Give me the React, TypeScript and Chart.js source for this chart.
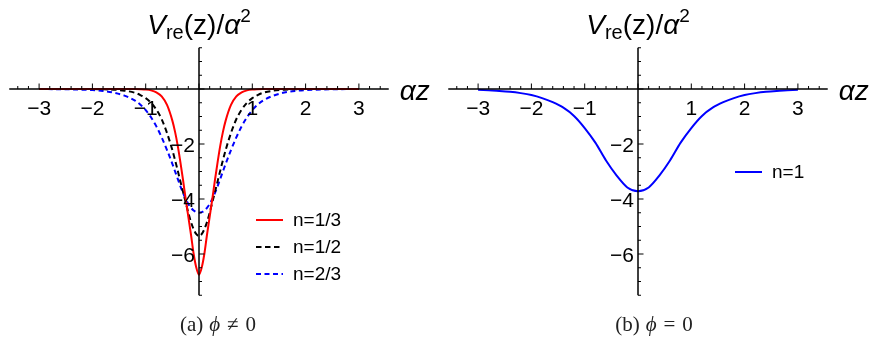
import { useEffect, useRef } from "react";
import { Chart, registerables } from "chart.js";

Chart.register(...registerables);

// αz sample positions for panel (a)
const zLeft = [
  -3, -2.5, -2, -1.8, -1.6, -1.4, -1.2, -1.1, -1, -0.9, -0.8, -0.7, -0.6, -0.5, -0.45, -0.4, -0.35, -0.3, -0.25,
  -0.2, -0.15, -0.1, -0.05, 0, 0.05, 0.1, 0.15, 0.2, 0.25, 0.3, 0.35, 0.4, 0.45, 0.5, 0.6, 0.7, 0.8, 0.9, 1, 1.1,
  1.2, 1.4, 1.6, 1.8, 2, 2.5, 3,
];

// V_re(z)/α² for n = 1/3
const vN13 = [
  0, 0, 0, 0, 0, 0, -0.003, -0.008, -0.02, -0.05, -0.12, -0.27, -0.58, -1.15, -1.55, -2.05, -2.65, -3.3, -4.0,
  -4.65, -5.3, -6.0, -6.5, -6.75, -6.5, -6.0, -5.3, -4.65, -4.0, -3.3, -2.65, -2.05, -1.55, -1.15, -0.58, -0.27,
  -0.12, -0.05, -0.02, -0.008, -0.003, 0, 0, 0, 0, 0, 0,
];

// V_re(z)/α² for n = 1/2
const vN12 = [
  0, 0, -0.004, -0.01, -0.025, -0.06, -0.14, -0.22, -0.33, -0.5, -0.75, -1.1, -1.6, -2.22, -2.58, -2.96, -3.35,
  -3.74, -4.12, -4.5, -4.84, -5.1, -5.28, -5.35, -5.28, -5.1, -4.84, -4.5, -4.12, -3.74, -3.35, -2.96, -2.58,
  -2.22, -1.6, -1.1, -0.75, -0.5, -0.33, -0.22, -0.14, -0.06, -0.025, -0.01, -0.004, 0, 0,
];

// V_re(z)/α² for n = 2/3
const vN23 = [
  -0.002, -0.01, -0.04, -0.07, -0.13, -0.24, -0.42, -0.57, -0.77, -1.03, -1.36, -1.76, -2.22, -2.72, -2.99,
  -3.26, -3.53, -3.78, -4.0, -4.18, -4.32, -4.42, -4.48, -4.5, -4.48, -4.42, -4.32, -4.18, -4.0, -3.78, -3.53,
  -3.26, -2.99, -2.72, -2.22, -1.76, -1.36, -1.03, -0.77, -0.57, -0.42, -0.24, -0.13, -0.07, -0.04, -0.01, -0.002,
];

// αz sample positions for panel (b)
const zRight = [
  -3, -2.8, -2.6, -2.4, -2.2, -2, -1.8, -1.6, -1.4, -1.2, -1, -0.8, -0.6, -0.4, -0.2, 0, 0.2, 0.4, 0.6, 0.8, 1,
  1.2, 1.4, 1.6, 1.8, 2, 2.2, 2.4, 2.6, 2.8, 3,
];

// V_re(z)/α² for n = 1
const vN1 = [
  -0.03, -0.05, -0.07, -0.1, -0.15, -0.22, -0.33, -0.48, -0.68, -0.98, -1.42, -1.95, -2.6, -3.15, -3.58, -3.72,
  -3.58, -3.15, -2.6, -1.95, -1.42, -0.98, -0.68, -0.48, -0.33, -0.22, -0.15, -0.1, -0.07, -0.05, -0.03,
];

const xTickValues = [-3, -2, -1, 1, 2, 3];
const yTickValues = [-6, -4, -2];
const xRange = [-3.56, 3.56];
const yRange = [-7.5, 1.5];

const SANS = '"Liberation Sans", Arial, sans-serif';
const CANVAS_W = 436;
const CANVAS_H = 339;
const PX_PER_X = 53.3;
const PX_PER_Y = 27.5;
const ORIGIN_Y = 89;

type Series = { label: string; z: number[]; v: number[]; color: string; dash: number[] };
type LegendBox = { x: number; y: number; gap: number };

// negative numbers use a true minus sign
const fmt = (v: number) => (v < 0 ? "\u2212" + Math.abs(v) : String(v));

function drawTitle(ctx: CanvasRenderingContext2D, cx: number, base: number) {
  const parts = [
    { t: "V", f: `italic 28px ${SANS}`, dy: 0 },
    { t: "re", f: `20px ${SANS}`, dy: 5 },
    { t: "(z)/", f: `28px ${SANS}`, dy: 0 },
    { t: "\u03b1", f: `italic 28px ${SANS}`, dy: 0 },
    { t: "2", f: `19px ${SANS}`, dy: -12 },
  ];
  let total = 0;
  for (const p of parts) {
    ctx.font = p.f;
    total += ctx.measureText(p.t).width;
  }
  let x = cx - total / 2;
  ctx.textAlign = "left";
  ctx.textBaseline = "alphabetic";
  ctx.fillStyle = "#000";
  for (const p of parts) {
    ctx.font = p.f;
    ctx.fillText(p.t, x, base + p.dy);
    x += ctx.measureText(p.t).width;
  }
}

function makeOriginAxes(legend: LegendBox) {
  return {
    id: "originAxes",
    afterDatasetsDraw(chart: any) {
      const { ctx, chartArea } = chart;
      const xs = chart.scales.x;
      const ys = chart.scales.y;
      const x0 = xs.getPixelForValue(0);
      const y0 = ys.getPixelForValue(0);
      ctx.save();
      ctx.strokeStyle = "#000";
      ctx.lineWidth = 1.5;
      ctx.beginPath();
      ctx.moveTo(chartArea.left, y0);
      ctx.lineTo(chartArea.right, y0);
      ctx.moveTo(x0, chartArea.top);
      ctx.lineTo(x0, chartArea.bottom);
      ctx.stroke();

      // tick marks: x ticks point up, y ticks point right
      ctx.lineWidth = 1;
      ctx.beginPath();
      for (let i = -17; i <= 17; i++) {
        const px = xs.getPixelForValue(i * 0.2);
        const major = i % 5 === 0;
        ctx.moveTo(px, y0);
        ctx.lineTo(px, y0 - (major ? 5.5 : 3));
      }
      for (let i = -15; i <= 3; i++) {
        const py = ys.getPixelForValue(i * 0.5);
        const major = i % 4 === 0;
        ctx.moveTo(x0, py);
        ctx.lineTo(x0 + (major ? 5.5 : 3), py);
      }
      ctx.stroke();

      // tick labels
      ctx.fillStyle = "#000";
      ctx.font = `21px ${SANS}`;
      ctx.textBaseline = "alphabetic";
      ctx.textAlign = "center";
      for (const v of xTickValues) {
        ctx.fillText(fmt(v), xs.getPixelForValue(v), y0 + 26);
      }
      ctx.textAlign = "right";
      for (const v of yTickValues) {
        ctx.fillText(fmt(v), x0 - 4, ys.getPixelForValue(v) + 7.5);
      }

      // axis captions
      ctx.textAlign = "left";
      ctx.font = `italic 28px ${SANS}`;
      ctx.fillText("\u03b1z", chartArea.right + 11, y0 + 11);
      drawTitle(ctx, x0, 34);

      // legend
      chart.data.datasets.forEach((ds: any, i: number) => {
        const y = legend.y + i * legend.gap;
        ctx.strokeStyle = ds.borderColor;
        ctx.lineWidth = 2;
        ctx.setLineDash(ds.borderDash || []);
        ctx.beginPath();
        ctx.moveTo(legend.x, y);
        ctx.lineTo(legend.x + 27, y);
        ctx.stroke();
        ctx.setLineDash([]);
        ctx.fillStyle = "#000";
        ctx.font = `19px ${SANS}`;
        ctx.textAlign = "left";
        ctx.textBaseline = "middle";
        ctx.fillText(ds.label, legend.x + 37, y + 1);
      });
      ctx.restore();
    },
  };
}

function Panel({ series, originX, legend }: { series: Series[]; originX: number; legend: LegendBox }) {
  const ref = useRef<HTMLCanvasElement | null>(null);
  useEffect(() => {
    if (!ref.current) return;
    const left = originX + xRange[0] * PX_PER_X;
    const right = CANVAS_W - (originX + xRange[1] * PX_PER_X);
    const top = ORIGIN_Y - yRange[1] * PX_PER_Y;
    const bottom = CANVAS_H - (ORIGIN_Y - yRange[0] * PX_PER_Y);
    const chart = new Chart(ref.current, {
      type: "line",
      data: {
        datasets: series.map((s) => ({
          label: s.label,
          data: s.z.map((z, i) => ({ x: z, y: s.v[i] })),
          borderColor: s.color,
          borderDash: s.dash,
          borderWidth: 2,
          pointRadius: 0,
          fill: false,
          cubicInterpolationMode: "monotone" as const,
        })),
      },
      options: {
        responsive: false,
        animation: false,
        devicePixelRatio: 1,
        layout: { padding: { left, right, top, bottom } },
        scales: {
          x: { type: "linear", min: xRange[0], max: xRange[1], display: false },
          y: { type: "linear", min: yRange[0], max: yRange[1], display: false },
        },
        plugins: { legend: { display: false }, tooltip: { enabled: false } },
      },
      plugins: [makeOriginAxes(legend)],
    });
    return () => chart.destroy();
  }, [series, originX, legend]);
  return <canvas ref={ref} width={CANVAS_W} height={CANVAS_H} style={{ width: CANVAS_W, height: CANVAS_H, display: "block" }} />;
}

const leftSeries: Series[] = [
  { label: "n=1/3", z: zLeft, v: vN13, color: "#ff0000", dash: [] },
  { label: "n=1/2", z: zLeft, v: vN12, color: "#000000", dash: [5.5, 3.5] },
  { label: "n=2/3", z: zLeft, v: vN23, color: "#0000ff", dash: [5, 3.5] },
];
const rightSeries: Series[] = [{ label: "n=1", z: zRight, v: vN1, color: "#0000ff", dash: [] }];
const leftLegend = { x: 256, y: 220, gap: 27 };
const rightLegend = { x: 299, y: 172, gap: 27 };

const captionStyle = {
  position: "absolute" as const,
  top: 312,
  width: CANVAS_W,
  display: "flex",
  justifyContent: "center",
  fontFamily: '"Liberation Serif", "DejaVu Serif", serif',
  fontSize: 21,
  lineHeight: "24px",
  color: "#222",
  whiteSpace: "nowrap" as const,
};

function Caption({ left, tag, relation }: { left: number; tag: string; relation: string }) {
  return (
    <div style={{ ...captionStyle, left }}>
      <span>({tag})</span>
      <i style={{ marginLeft: 6 }}>ϕ</i>
      <span style={{ marginLeft: 7 }}>{relation}</span>
      <span style={{ marginLeft: 7 }}>0</span>
    </div>
  );
}

export default function App() {
  return (
    <div style={{ position: "fixed", left: 0, top: 0, width: 872, height: 339, background: "#fff", overflow: "hidden" }}>
      <div style={{ position: "absolute", left: 0, top: 0 }}>
        <Panel series={leftSeries} originX={199} legend={leftLegend} />
      </div>
      <div style={{ position: "absolute", left: 436, top: 0 }}>
        <Panel series={rightSeries} originX={202} legend={rightLegend} />
      </div>
      <Caption left={0} tag="a" relation="≠" />
      <Caption left={436} tag="b" relation="=" />
    </div>
  );
}
